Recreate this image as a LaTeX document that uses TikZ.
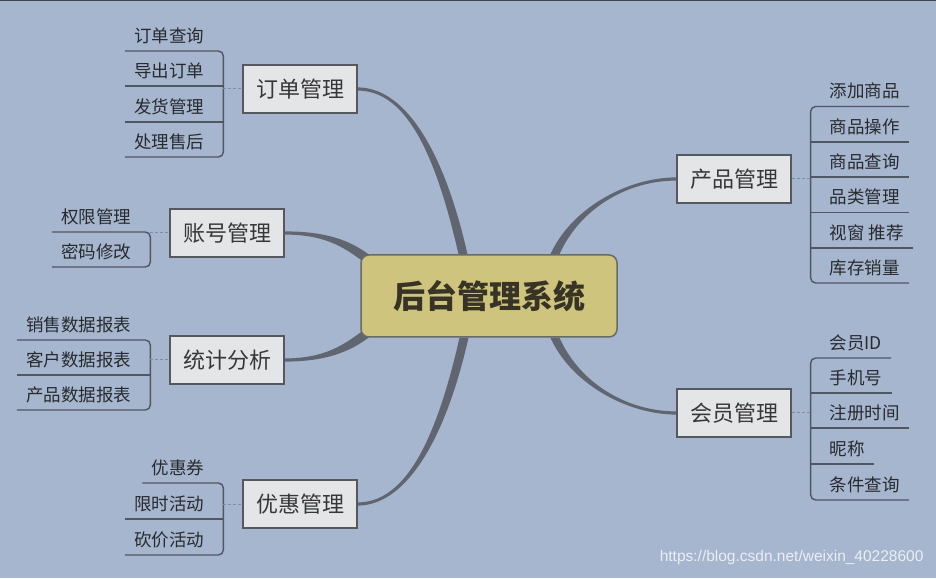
\documentclass[tikz,border=0pt]{standalone}
\usepackage{fontspec}
\setmainfont{Noto Sans CJK SC}
\newfontfamily\urlfont{Liberation Sans}
\usetikzlibrary{calc}
\usetikzlibrary{positioning}
\usetikzlibrary{backgrounds}
\definecolor{bgblue}{RGB}{166,182,206}
\definecolor{topedge}{RGB}{62,68,84}
\definecolor{topicfill}{RGB}{228,229,230}
\definecolor{topicborder}{RGB}{85,88,95}
\definecolor{topictext}{RGB}{55,55,58}
\definecolor{hubfill}{RGB}{207,196,125}
\definecolor{hubborder}{RGB}{105,108,100}
\definecolor{hubtext}{RGB}{55,52,38}
\definecolor{branchgray}{RGB}{96,101,112}
\definecolor{linegray}{RGB}{80,86,98}
\definecolor{dashgray}{RGB}{128,142,162}
\definecolor{leaftext}{RGB}{40,42,46}
\definecolor{wmgray}{RGB}{235,238,243}
\newcommand{\taperbranch}[6]{%
	\fill[branch] ($(#1)+(#5)$) .. controls +(#2) and +(#3) .. ($(#4)+(#6)$) -- ($(#4)-(#6)$) .. controls +(#3) and +(#2) .. ($(#1)-(#5)$) -- cycle;}

\begin{document}
\begin{tikzpicture}[x=1pt,y=1pt]
	\tikzstyle{topic} = [rectangle, draw=topicborder, line width=1.3pt, fill=topicfill, minimum width=114, minimum height=48, text=topictext, font=\fontsize{22}{26}\selectfont]
	\tikzstyle{hubbox} = [rectangle, rounded corners=8, draw=hubborder, line width=1.5pt, fill=hubfill, minimum width=256, minimum height=82, text=hubtext, font=\fontsize{32}{38}\selectfont\bfseries]
	\tikzstyle{leaf} = [inner xsep=9, inner ysep=0, minimum height=30, text=leaftext, font=\fontsize{17.5}{20}\selectfont]
	\tikzstyle{leafleft} = [leaf, anchor=south east]
	\tikzstyle{leafright} = [leaf, anchor=south west]
	\tikzstyle{leafline} = [draw=linegray, line width=1.4pt]
	\tikzstyle{fork} = [leafline, rounded corners=5]
	\tikzstyle{dashlink} = [draw=dashgray, line width=1pt, dash pattern=on 3pt off 2pt]
	\tikzstyle{branch} = [fill=branchgray]
	\useasboundingbox (0,0) rectangle (936,578);
	\node (hub)[hubbox] at (489,282) {后台管理系统};
	\node (order)[topic] at (300,489) {订单管理};
	\node (account)[topic] at (227,345) {账号管理};
	\node (stats)[topic] at (227,218) {统计分析};
	\node (promo)[topic] at (300,74) {优惠管理};
	\node (product)[topic] at (734,399) {产品管理};
	\node (member)[topic] at (734,165) {会员管理};
	\coordinate (inorder) at ($(hub.north)+(-26,0)$);
	\coordinate (inpromo) at ($(hub.south)+(-25,0)$);
	\coordinate (inproduct) at ($(hub.north)+(66,0)$);
	\coordinate (inmember) at ($(hub.south)+(66,0)$);
	\coordinate (inaccount) at ($(hub.north west)+(6,-4)$);
	\coordinate (instats) at ($(hub.south west)+(6,4)$);
	\begin{scope}[on background layer]
		\fill[bgblue] (0,0) rectangle (936,578);
		\fill[topedge] (0,576.5) rectangle (936,578);
		\taperbranch{order.east}{45,0}{-25,110}{inorder}{0,1.6}{4.5,0}
		\taperbranch{promo.east}{45,0}{-25,-110}{inpromo}{0,1.6}{-4.5,0}
		\taperbranch{product.west}{-50,0}{20,45}{inproduct}{0,-1.6}{4.5,0}
		\taperbranch{member.west}{-50,0}{20,-45}{inmember}{0,-1.6}{-4.5,0}
		\taperbranch{account.east}{40,0}{-20,15}{inaccount}{0,1.6}{2.7,3.6}
		\taperbranch{stats.east}{40,0}{-20,-15}{instats}{0,1.6}{-2.7,3.6}
	\end{scope}
	\coordinate (orderfork) at ($(order.west)+(-19,0)$);
	\node (o1)[leafleft] at ($(orderfork)+(-10,38)$) {订单查询};
	\node (o2)[leafleft] at ($(orderfork)+(-10,3)$) {导出订单};
	\node (o3)[leafleft] at ($(orderfork)+(-10,-33)$) {发货管理};
	\node (o4)[leafleft] at ($(orderfork)+(-10,-68)$) {处理售后};
	\draw[fork] (o1.south west) -- (o1.south -| orderfork) -- (o4.south -| orderfork) -- (o4.south west);
	\draw[leafline] (o2.south west) -- (o2.south -| orderfork);
	\draw[leafline] (o3.south west) -- (o3.south -| orderfork);
	\draw[dashlink] (orderfork) -- (order.west);
	\coordinate (accountfork) at ($(account.west)+(-19,0)$);
	\node (a1)[leafleft] at ($(accountfork)+(-10,1)$) {权限管理};
	\node (a2)[leafleft] at ($(accountfork)+(-10,-34)$) {密码修改};
	\draw[fork] (a1.south west) -- (a1.south -| accountfork) -- (a2.south -| accountfork) -- (a2.south west);
	\draw[dashlink] (accountfork) -- (account.west);
	\coordinate (statsfork) at ($(stats.west)+(-19,0)$);
	\node (s1)[leafleft] at ($(statsfork)+(-10,20)$) {销售数据报表};
	\node (s2)[leafleft] at ($(statsfork)+(-10,-15)$) {客户数据报表};
	\node (s3)[leafleft] at ($(statsfork)+(-10,-50)$) {产品数据报表};
	\draw[fork] (s1.south west) -- (s1.south -| statsfork) -- (s3.south -| statsfork) -- (s3.south west);
	\draw[leafline] (s2.south west) -- (s2.south -| statsfork);
	\draw[dashlink] (statsfork) -- (stats.west);
	\coordinate (promofork) at ($(promo.west)+(-19,0)$);
	\node (c1)[leafleft] at ($(promofork)+(-10,21)$) {优惠券};
	\node (c2)[leafleft] at ($(promofork)+(-10,-15)$) {限时活动};
	\node (c3)[leafleft] at ($(promofork)+(-10,-51)$) {砍价活动};
	\draw[fork] (c1.south west) -- (c1.south -| promofork) -- (c3.south -| promofork) -- (c3.south west);
	\draw[leafline] (c2.south west) -- (c2.south -| promofork);
	\draw[dashlink] (promofork) -- (promo.west);
	\coordinate (productfork) at ($(product.east)+(19,0)$);
	\node (p1)[leafright] at ($(productfork)+(10,72.5)$) {添加商品};
	\node (p2)[leafright] at ($(productfork)+(10,37)$) {商品操作};
	\node (p3)[leafright] at ($(productfork)+(10,2)$) {商品查询};
	\node (p4)[leafright] at ($(productfork)+(10,-33.5)$) {品类管理};
	\node (p5)[leafright] at ($(productfork)+(10,-69)$) {视窗 推荐};
	\node (p6)[leafright] at ($(productfork)+(10,-104)$) {库存销量};
	\draw[fork] (p1.south east) -- (p1.south -| productfork) -- (p6.south -| productfork) -- (p6.south east);
	\draw[leafline] (p2.south -| productfork) -- (p2.south east);
	\draw[leafline] (p3.south -| productfork) -- (p3.south east);
	\draw[leafline] (p4.south -| productfork) -- (p4.south east);
	\draw[leafline] (p5.south -| productfork) -- (p5.south east);
	\draw[dashlink] (product.east) -- (productfork);
	\coordinate (memberfork) at ($(member.east)+(19,0)$);
	\node (m1)[leafright] at ($(memberfork)+(10,55)$) {会员ID};
	\node (m2)[leafright] at ($(memberfork)+(10,20)$) {手机号};
	\node (m3)[leafright] at ($(memberfork)+(10,-15)$) {注册时间};
	\node (m4)[leafright] at ($(memberfork)+(10,-51)$) {昵称};
	\node (m5)[leafright] at ($(memberfork)+(10,-87)$) {条件查询};
	\draw[fork] (m1.south east) -- (m1.south -| memberfork) -- (m5.south -| memberfork) -- (m5.south east);
	\draw[leafline] (m2.south -| memberfork) -- (m2.south east);
	\draw[leafline] (m3.south -| memberfork) -- (m3.south east);
	\draw[leafline] (m4.south -| memberfork) -- (m4.south east);
	\draw[dashlink] (member.east) -- (memberfork);
	\node (watermark)[anchor=east, text=wmgray, font=\urlfont\fontsize{15.5}{18}\selectfont] at (927,21) {https://blog.csdn.net/weixin\_40228600};
\end{tikzpicture}
\end{document}
